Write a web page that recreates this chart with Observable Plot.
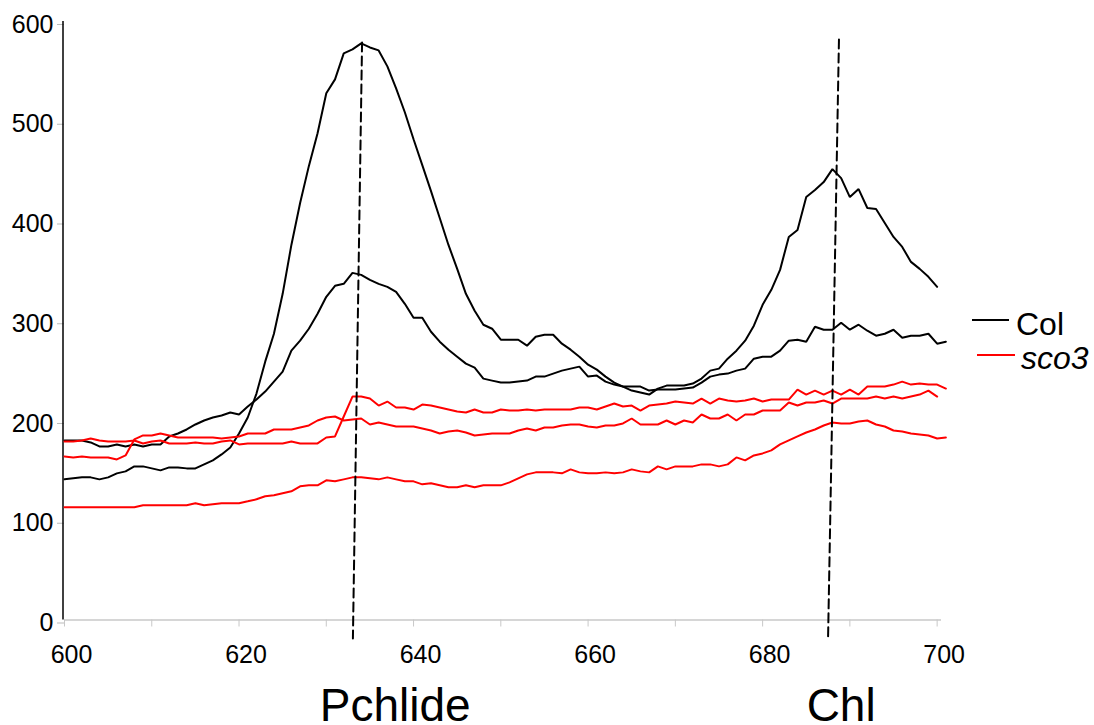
<!DOCTYPE html>
<html><head><meta charset="utf-8">
<script src="https://cdn.jsdelivr.net/npm/d3@7"></script>
<script src="https://cdn.jsdelivr.net/npm/@observablehq/plot@0.6"></script>
<style>
html,body{margin:0;padding:0;background:#fff;}
#wrap{position:relative;width:1094px;height:725px;font-family:"Liberation Sans",Arial,sans-serif;overflow:hidden;}
.leg-line{position:absolute;height:2px;}
.leg-text{position:absolute;font-size:32px;line-height:32px;color:#000;white-space:nowrap;}
</style></head><body><div id="wrap"></div>
<script>
// wavelengths (nm), one reading per nm starting at 600
const startWl = 600;
// Col (wild type), two samples
const col1 = [
141,142,143,143,141,143,147,149,154,154,
152,150,153,153,152,152,156,160,166,173,
187,203,227,259,287,327,376,418,455,488,
528,542,568,572,578,574,571,555,533,509,
482,456,430,403,376,352,327,310,296,292,
281,281,281,275,284,286,286,277,271,264,
256,251,244,238,234,230,228,226,232,235,
235,235,237,242,250,252,262,270,280,295,
316,331,351,384,391,424,431,439,452,443,
424,432,413,412,398,384,374,359,352,344,
334];
const col2 = [
180,180,180,178,174,174,176,174,176,174,
176,176,184,187,191,196,200,203,205,208,
206,214,221,229,239,249,270,280,292,307,
324,335,337,348,346,341,337,334,329,317,
303,303,289,279,271,264,257,253,242,240,
238,238,239,240,244,244,247,250,252,254,
244,245,239,236,234,234,234,230,231,231,
231,232,233,238,244,246,247,250,252,262,
264,264,270,280,281,279,294,291,291,298,
291,296,290,285,287,291,283,285,285,287,
277,279];
// sco3 mutant, three samples
const sco1 = [
164,163,164,163,163,163,161,165,181,185,
185,187,185,183,183,183,183,183,182,183,
184,187,187,187,191,191,191,193,195,200,
203,204,200,201,202,196,198,196,194,194,
194,192,190,187,189,190,188,185,186,187,
187,187,190,192,190,193,193,195,196,196,
194,193,195,195,197,202,196,196,196,200,
196,200,198,206,202,202,206,200,206,206,
210,210,210,218,215,218,218,220,217,222,
222,222,222,224,222,224,222,224,226,230,
224];
const sco2 = [
179,179,180,182,180,179,179,179,180,177,
179,180,177,177,177,178,177,177,179,180,
176,177,177,177,177,177,179,177,177,177,
183,184,204,224,224,222,215,219,213,213,
211,216,215,213,211,209,208,211,208,208,
211,210,210,211,210,211,211,211,211,213,
213,211,214,217,214,215,210,215,216,217,
219,218,217,222,217,222,220,219,220,222,
219,221,221,221,231,226,230,226,230,226,
231,226,234,234,234,236,239,236,237,236,
236,232];
const sco3 = [
113,113,113,113,113,113,113,113,113,115,
115,115,115,115,115,117,115,116,117,117,
117,119,121,124,125,127,129,134,135,135,
140,139,141,143,143,142,141,143,141,139,
139,136,137,135,133,133,135,133,135,135,
135,138,142,146,148,148,148,147,151,148,
147,147,148,147,148,151,149,148,154,151,
154,154,154,156,156,154,156,163,160,165,
167,170,176,180,184,188,191,195,198,197,
197,199,200,196,194,190,189,187,186,185,
182,183];

const seriesList = [
  {name: "Col", run: "col1", values: col1},
  {name: "Col", run: "col2", values: col2},
  {name: "sco3", run: "sco1", values: sco1},
  {name: "sco3", run: "sco2", values: sco2},
  {name: "sco3", run: "sco3", values: sco3}
];
const legendNames = ["Col", "sco3"];
const legendColors = ["#000000", "#ff0000"];

const xLabelTicks = [600, 620, 640, 660, 680, 700];
const xMinorTicks = [600, 610, 620, 630, 640, 650, 660, 670, 680, 690, 700];
const yTicks = [0, 100, 200, 300, 400, 500, 600];

// hand-drawn dashed peak markers (top and bottom ends, in data units)
const markerPchlide = [{wl: 634.1, v: 579}, {wl: 633.05, v: -18.5}];
const markerChl = [{wl: 688.75, v: 582}, {wl: 687.5, v: -18.5}];
const peakLabels = [{wl: 637.9, v: -86, label: "Pchlide"}, {wl: 689.0, v: -86, label: "Chl"}];

const rows = [];
for (const s of seriesList) {
  s.values.forEach((v, i) => rows.push({wl: startWl + i, v, name: s.name, run: s.run}));
}

const chart = Plot.plot({
  width: 1094,
  height: 725,
  marginTop: 21,
  marginBottom: 105.5,
  marginLeft: 64,
  marginRight: 153,
  style: {fontFamily: "'Liberation Sans', Arial, sans-serif", overflow: "visible", background: "white"},
  x: {domain: [600, 700.5], axis: null, label: null},
  y: {domain: [0, 600], axis: null, label: null},
  color: {domain: legendNames, range: legendColors},
  marks: [
    Plot.ruleY([0], {stroke: "#c8c8c8", strokeWidth: 1.5}),
    Plot.axisX(xMinorTicks, {tickSize: 7, stroke: "#c8c8c8", tickFormat: () => "", label: null}),
    Plot.axisX(xLabelTicks, {tickSize: 0, tickPadding: 25, fontSize: 25, dx: 7, fill: "black", label: null}),
    Plot.axisY(yTicks, {tickSize: 7, tickPadding: 4, stroke: "#bbbbbb", fill: "black", fontSize: 25, dy: 3, label: null}),
    Plot.ruleX([600], {y1: 0, y2: 600, stroke: "black", strokeWidth: 1.5, dx: -1.5}),
    Plot.line(rows, {x: "wl", y: "v", z: "run", stroke: "name", strokeWidth: 2, strokeLinejoin: "miter"}),
    Plot.line(markerPchlide, {x: "wl", y: "v", stroke: "black", strokeWidth: 2, strokeDasharray: "9,5"}),
    Plot.line(markerChl, {x: "wl", y: "v", stroke: "black", strokeWidth: 2, strokeDasharray: "9,5"}),
    Plot.text(peakLabels, {x: "wl", y: "v", text: "label", fontSize: 46, fill: "black", lineAnchor: "middle"})
  ]
});

const wrap = document.getElementById("wrap");
wrap.appendChild(chart);

// legend (HTML overlay)
const legendItems = [
  {name: legendNames[0], color: legendColors[0], lineLeft: 972, lineTop: 319, lineW: 37, textLeft: 1016, textTop: 308, italic: false},
  {name: legendNames[1], color: legendColors[1], lineLeft: 977, lineTop: 354, lineW: 38, textLeft: 1021, textTop: 342, italic: true}
];
for (const it of legendItems) {
  const ln = document.createElement("div");
  ln.className = "leg-line";
  ln.style.left = it.lineLeft + "px";
  ln.style.top = it.lineTop + "px";
  ln.style.width = it.lineW + "px";
  ln.style.background = it.color;
  wrap.appendChild(ln);
  const tx = document.createElement("div");
  tx.className = "leg-text";
  tx.style.left = it.textLeft + "px";
  tx.style.top = it.textTop + "px";
  if (it.italic) tx.style.fontStyle = "italic";
  tx.textContent = it.name;
  wrap.appendChild(tx);
}
chart.style.position = "absolute";
chart.style.left = "0px";
chart.style.top = "0px";
</script>
</body></html>
